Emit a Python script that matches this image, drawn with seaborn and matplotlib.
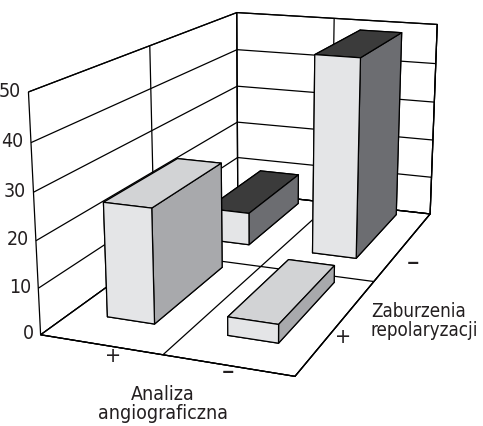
import numpy as np
import matplotlib
matplotlib.use("Agg")
import matplotlib.pyplot as plt
import seaborn as sns

# categories
analiza = ["+", "–"]          # x axis (left -> right)
zaburzenia = ["+", "–"]       # depth axis (front -> back)
# bar heights, one list per depth row
vals_zab_plus = [25, 4]
vals_zab_minus = [8, 48]
z_ticks = [0, 10, 20, 30, 40, 50]

sns.set_theme(style="white")
plt.rcParams["font.family"] = ["DejaVu Sans"]
plt.rcParams["font.stretch"] = "condensed"
plt.rcParams["grid.color"] = "black"
plt.rcParams["grid.linewidth"] = 0.9
plt.rcParams["grid.linestyle"] = "-"

fig = plt.figure(figsize=(4.83, 4.26), dpi=100)
ax = fig.add_axes([0.028, 0.105, 1.0, 1.0], projection="3d")
ax.set_proj_type("persp", focal_length=0.55)
ax.view_init(elev=15.5, azim=-69)
ax.set_box_aspect((1.0, 1.95, 0.92), zoom=1.3)

# panes: white with black border
for axis in (ax.xaxis, ax.yaxis, ax.zaxis):
    axis.set_pane_color((1, 1, 1, 1))
    axis.pane.set_edgecolor("black")
    axis.pane.set_linewidth(0.9)
    axis.line.set_color("black")
    axis.line.set_linewidth(0.9)
    axis._axinfo["tick"]["inward_factor"] = 0
    axis._axinfo["tick"]["outward_factor"] = 0
    axis._axinfo["grid"]["color"] = "black"
    axis._axinfo["grid"]["linewidth"] = 0.9

ax.set_xlim(0, 2)
ax.set_ylim(0, 2)
ax.set_zlim(0, 50)
# grid lines at category borders
ax.set_xticks([0, 1, 2])
ax.set_yticks([0, 1, 2])
ax.set_zticks(z_ticks)
ax.set_xticklabels([])
ax.set_yticklabels([])
ax.set_zticklabels([])

bw, bd, boff = 0.4, 0.68, 0.25
front_col = "#e4e5e7"
rows = [
    (vals_zab_plus, "#d2d3d5", "#a8a9ac"),
    (vals_zab_minus, "#3b3b3b", "#6c6d71"),
]
# draw back row first
for j in (1, 0):
    vals, top_col, side_col = rows[j]
    for i, v in enumerate(vals):
        ax.bar3d(i + 0.5 - bw / 2, j + boff, 0, bw, bd, v,
                 color=[front_col, top_col, front_col, side_col, side_col, side_col],
                 shade=False, edgecolor="black", linewidth=0.9)

# z tick labels and tick marks on the front-left edge
for t in z_ticks:
    ax.plot([-0.045, 0], [0, 0], [t, t], color="black", lw=0.9)
    ax.text(-0.06, 0, t, str(t), ha="right", va="center", fontsize=14, color="#231f20")

fs = 13.5
sign_fs = 15.5
dash_fs = 20
fig.text(113 / 483, 1 - 356 / 426, analiza[0], ha="center", va="center", fontsize=sign_fs, color="#231f20")
fig.text(228 / 483, 1 - 372 / 426, analiza[1], ha="center", va="center", fontsize=dash_fs, color="#231f20")
fig.text(163 / 483, 1 - 404 / 426, "Analiza\nangiograficzna", ha="center", va="center",
         fontsize=fs + 0.5, linespacing=1.0, color="#231f20")
fig.text(343 / 483, 1 - 337 / 426, zaburzenia[0], ha="center", va="center", fontsize=sign_fs, color="#231f20")
fig.text(413 / 483, 1 - 263 / 426, zaburzenia[1], ha="center", va="center", fontsize=dash_fs, color="#231f20")
fig.text(371 / 483, 1 - 321 / 426, "Zaburzenia\nrepolaryzacji", ha="left", va="center",
         fontsize=fs, linespacing=1.05, color="#231f20")

fig.savefig("out.png", dpi=100)
